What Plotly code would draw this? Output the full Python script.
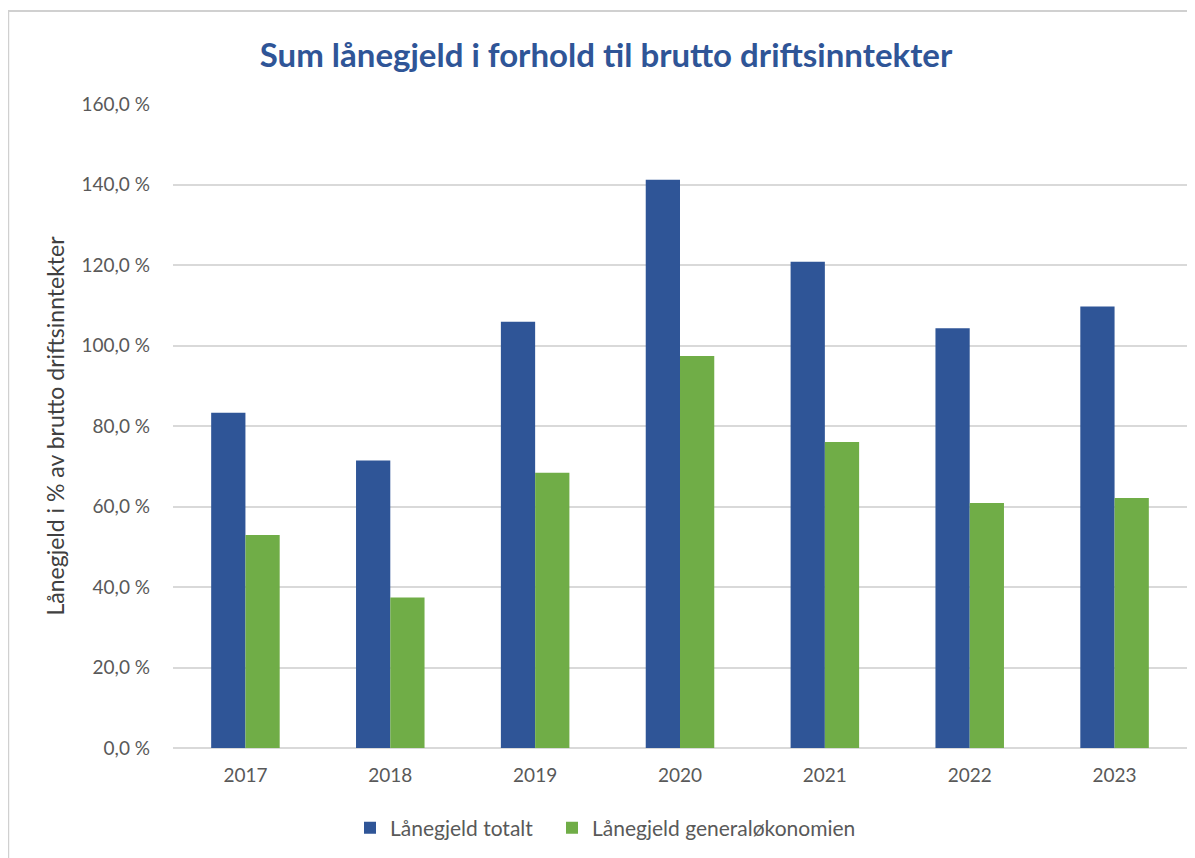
import plotly.graph_objects as go

# Data
years = ["2017", "2018", "2019", "2020", "2021", "2022", "2023"]
laanegjeld_totalt = [83.3, 71.4, 105.9, 141.2, 120.8, 104.3, 109.7]
laanegjeld_generalokonomien = [52.9, 37.4, 68.4, 97.4, 76.0, 60.9, 62.1]
y_tick_vals = [0, 20, 40, 60, 80, 100, 120, 140, 160]
y_tick_labels = ["0,0 %", "20,0 %", "40,0 %", "60,0 %", "80,0 %",
                 "100,0 %", "120,0 %", "140,0 %", "160,0 %"]

FONT = "Lato, 'Open Sans', sans-serif"
GREY_TXT = "#595959"
GRID = "#D9D9D9"

# the page body has an 8px margin, so the figure is sized to fit inside it
W, H, OFF = 1187, 850, 8

fig = go.Figure()

fig.add_trace(go.Bar(
    x=years,
    y=laanegjeld_totalt,
    name="Lånegjeld totalt",
    marker=dict(color="#2F5597", line=dict(width=0)),
    legend="legend",
    showlegend=True,
))

fig.add_trace(go.Bar(
    x=years,
    y=laanegjeld_generalokonomien,
    name="Lånegjeld generaløkonomien",
    marker=dict(color="#70AD47", line=dict(width=0)),
    legend="legend2",
    showlegend=True,
))

# light grey frame around the whole chart (right/bottom edges fall outside the picture)
fig.add_shape(
    type="rect", xref="paper", yref="paper",
    x0=-0.1625, x1=1.05, y0=-0.3, y1=1.1444,
    line=dict(color="#D0D0D0", width=2),
    fillcolor="rgba(0,0,0,0)", layer="below",
)

legend_style = dict(
    orientation="h",
    xanchor="left", xref="container",
    yref="container", y=1 - (828 - OFF) / H, yanchor="middle",
    font=dict(size=21, color=GREY_TXT),
    itemwidth=30,
    visible=True,
)

fig.update_layout(
    width=W,
    height=H,
    showlegend=True,
    paper_bgcolor="white",
    plot_bgcolor="white",
    font=dict(family=FONT, color=GREY_TXT, size=18),
    margin=dict(l=165, r=8, t=96, b=110),
    barmode="group",
    bargap=0.527,
    bargroupgap=0,
    title=dict(
        text="<b>Sum lånegjeld i forhold til brutto driftsinntekter</b>",
        font=dict(family=FONT, size=33, color="#2F5597"),
        x=(606 - OFF) / W, xanchor="center", xref="container",
        y=1 - (55 - OFF) / H, yanchor="middle", yref="container",
    ),
    xaxis=dict(
        showgrid=False,
        showline=False,
        ticks="",
        ticklabelstandoff=14,
        tickfont=dict(size=19, color=GREY_TXT),
    ),
    yaxis=dict(
        range=[0, 160],
        tickvals=y_tick_vals,
        ticktext=y_tick_labels,
        showgrid=True,
        gridcolor=GRID,
        gridwidth=1.5,
        zeroline=True,
        zerolinecolor=GRID,
        zerolinewidth=1.5,
        showline=False,
        ticks="",
        ticklabelstandoff=22,
        tickfont=dict(size=19, color=GREY_TXT),
        title=dict(
            text="Lånegjeld i % av brutto driftsinntekter",
            font=dict(size=23, color="#404040"),
            standoff=10,
        ),
    ),
    legend=dict(legend_style, x=(350 - OFF) / W),
    legend2=dict(legend_style, x=(552 - OFF) / W),
)

fig.write_html("out.html")
